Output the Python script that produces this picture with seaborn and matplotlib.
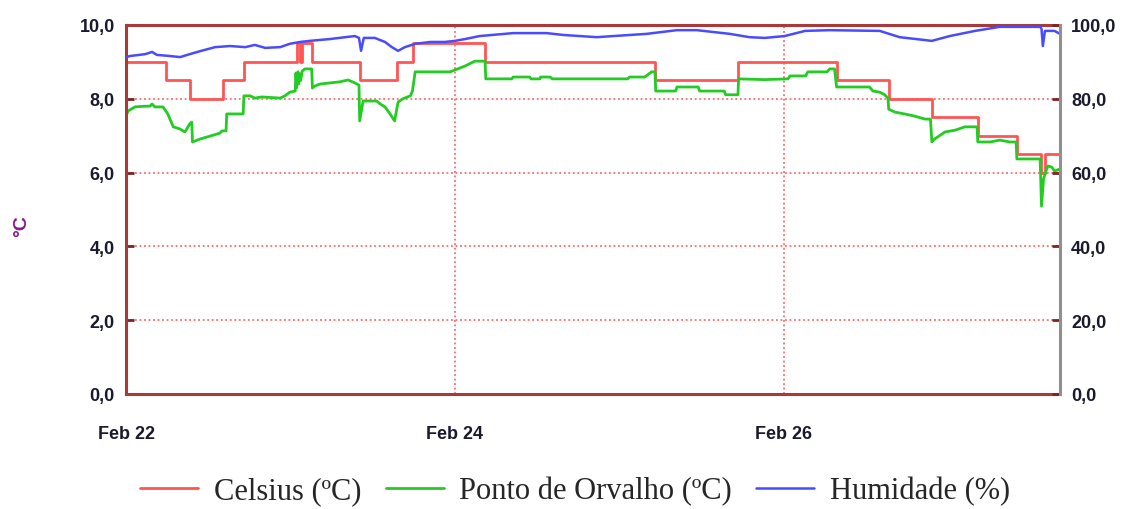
import numpy as np
import pandas as pd
import matplotlib
matplotlib.use("Agg")
import matplotlib.pyplot as plt
import matplotlib.dates as mdates
from matplotlib.ticker import FuncFormatter, FixedLocator
import seaborn as sns

# ---------------- data ----------------
start = pd.Timestamp("2024-02-22 00:00")
end_hours = 136.3

celsius_hours = [0.0, 5.8, 9.3, 14.2, 17.2, 24.9, 25.4, 25.7, 27.1, 34.1, 39.5, 41.9,
                 52.4, 77.2, 89.3, 103.7, 111.3, 117.6, 124.3, 130.0, 133.6, 134.1, 136.3]
celsius_values = [9.0, 8.5, 8.0, 8.5, 9.0, 9.5, 9.0, 9.5, 9.0, 8.5, 9.0, 9.5,
                  9.0, 8.5, 9.0, 8.5, 8.0, 7.5, 7.0, 6.5, 6.0, 6.5, 6.5]

dew_hours = [0.0, 0.3, 1.3, 2.8, 3.5, 3.8, 4.2, 5.4, 6.1, 6.9, 7.9, 8.6, 9.3, 9.6, 9.7,
             10.8, 12.3, 13.7, 14.0, 14.6, 14.7, 17.1, 17.2, 18.1, 18.8, 19.8, 22.5, 23.2,
             23.9, 24.7, 24.8, 24.9, 25.1, 25.2, 25.4, 25.5, 25.7, 26.1, 26.8, 27.1, 27.2,
             27.6, 28.3, 31.2, 32.4, 33.4, 34.0, 34.1, 34.6, 36.6, 37.1, 37.8, 38.5, 39.2,
             39.7, 40.4, 41.5, 41.8, 42.2, 47.3, 48.4, 49.5, 50.9, 52.4, 52.5, 56.3, 56.5,
             58.9, 59.1, 60.4, 60.5, 61.9, 62.2, 73.2, 73.5, 75.7, 76.7, 77.2, 77.3, 80.2,
             80.4, 83.5, 83.7, 87.3, 87.5, 89.3, 89.4, 93.2, 96.6, 96.9, 99.2, 99.5, 102.3,
             102.7, 103.4, 103.7, 108.5, 109.0, 110.0, 110.7, 111.2, 111.3, 112.2, 113.6,
             115.1, 116.6, 117.4, 117.6, 118.0, 119.5, 121.0, 122.4, 124.2, 124.3, 126.1,
             127.5, 129.0, 129.9, 130.0, 133.4, 133.6, 133.9, 134.5, 135.1, 135.5, 136.3]
dew_values = [7.53, 7.67, 7.78, 7.80, 7.80, 7.86, 7.78, 7.78, 7.59, 7.24, 7.18, 7.10, 7.32, 7.37, 6.83,
              6.91, 6.99, 7.07, 7.13, 7.13, 7.59, 7.59, 8.08, 8.08, 8.02, 8.05, 8.02, 8.08,
              8.18, 8.21, 8.70, 8.30, 8.73, 8.40, 8.67, 8.50, 8.75, 8.81, 8.81, 8.81, 8.29,
              8.35, 8.40, 8.46, 8.51, 8.43, 8.37, 7.40, 7.94, 7.94, 7.86, 7.78, 7.60, 7.40,
              7.91, 8.00, 8.08, 8.21, 8.73, 8.73, 8.81, 8.89, 9.02, 9.02, 8.54, 8.54, 8.59,
              8.59, 8.54, 8.54, 8.59, 8.59, 8.54, 8.54, 8.59, 8.59, 8.73, 8.73, 8.21, 8.21,
              8.32, 8.32, 8.21, 8.21, 8.11, 8.11, 8.54, 8.52, 8.54, 8.62, 8.62, 8.73, 8.73,
              8.81, 8.81, 8.32, 8.32, 8.21, 8.18, 8.11, 8.02, 7.72, 7.64, 7.59,
              7.53, 7.45, 7.45, 6.83, 6.91, 7.10, 7.15, 7.24, 7.24, 6.83, 6.83,
              6.88, 6.83, 6.83, 6.37, 6.37, 5.09, 5.83, 6.18, 6.15, 6.04, 6.10]

hum_hours = [0.0, 0.6, 2.8, 3.8, 4.5, 6.4, 7.9, 9.3, 10.8, 13.0, 15.2, 17.4, 18.8, 20.3, 22.5,
             23.9, 25.4, 26.8, 29.8, 32.0, 33.4, 34.0, 34.3, 34.7, 36.3, 37.8, 38.8, 39.7,
             40.7, 42.2, 44.4, 46.5, 48.0, 49.5, 51.6, 56.5, 61.4, 63.8, 68.7, 71.1, 76.0,
             80.4, 83.3, 88.1, 91.0, 93.2, 96.1, 99.1, 102.7, 110.0, 112.9, 117.6, 120.2,
             123.9, 127.5, 133.4, 133.6, 133.8, 134.1, 135.5, 136.3]
hum_values = [91.3, 91.6, 92.1, 92.7, 91.9, 91.6, 91.3, 92.1, 92.9, 94.0, 94.3, 94.0, 94.6, 93.8, 94.0,
              94.9, 95.4, 95.7, 96.2, 96.7, 97.0, 96.5, 93.0, 96.5, 96.5, 95.4, 94.0, 93.0,
              94.0, 94.9, 95.4, 95.4, 95.7, 96.2, 97.0, 97.8, 97.8, 97.3, 96.7, 97.0, 97.6,
              98.6, 98.6, 97.6, 96.7, 96.5, 97.0, 98.4, 98.6, 98.4, 96.7, 95.7, 97.0,
              98.4, 99.5, 99.5, 99.0, 94.3, 98.4, 98.4, 97.6]

tick_dates = ["2024-02-22", "2024-02-24", "2024-02-26"]
series_labels = ["Celsius (ºC)", "Ponto de Orvalho (ºC)", "Humidade (%)"]
y_label = "°C"

# ---------------- style ----------------
sns.set_style("white")
plt.rcParams["font.family"] = ["Liberation Sans", "DejaVu Sans"]

RED = "#ff5555"
GREEN = "#22cc22"
BLUE = "#4a4aff"
SPINE = "#a83a3a"
GRID = "#ff6b6b"
TXT = "#1a1a2e"
LS = 13

fig = plt.figure(figsize=(11.22, 5.10), dpi=100)
ax = fig.add_axes([126 / 1122, 1 - 395 / 510, (1060 - 126) / 1122, (395 - 26) / 510])
ax2 = ax.twinx()

def frame(hours, values):
    return pd.DataFrame({"time": start + pd.to_timedelta(hours, unit="h"), "value": values})

df_c = frame(celsius_hours, celsius_values)
df_d = frame(dew_hours, dew_values)
df_h = frame(hum_hours, hum_values)

sns.lineplot(data=df_c, x="time", y="value", ax=ax, color=RED, lw=2.0,
             drawstyle="steps-post", estimator=None, sort=False, label=series_labels[0], legend=False)
sns.lineplot(data=df_d, x="time", y="value", ax=ax, color=GREEN, lw=2.0,
             estimator=None, sort=False, label=series_labels[1], legend=False)
sns.lineplot(data=df_h, x="time", y="value", ax=ax2, color=BLUE, lw=1.8,
             estimator=None, sort=False, label=series_labels[2], legend=False)

x0 = start
x1 = start + pd.Timedelta(hours=end_hours)
ax.set_xlim(x0, x1)
ax.set_ylim(0, 10)
ax2.set_ylim(0, 100)

comma = FuncFormatter(lambda v, p: f"{v:.1f}".replace(".", ","))
ax.yaxis.set_major_locator(FixedLocator([0, 2, 4, 6, 8, 10]))
ax.yaxis.set_major_formatter(comma)
ax2.yaxis.set_major_locator(FixedLocator([0, 20, 40, 60, 80, 100]))
ax2.yaxis.set_major_formatter(comma)

ax.xaxis.set_major_locator(FixedLocator(mdates.date2num(pd.to_datetime(tick_dates))))
ax.xaxis.set_major_formatter(mdates.DateFormatter("%b %d"))

ax.set_xlabel("")
ax.set_ylabel("")
ax2.set_ylabel("")

ax.grid(True, color=GRID, linestyle=(0, (1, 1.5)), linewidth=1.3)
ax2.grid(False)

for s in ["left", "top", "bottom"]:
    ax.spines[s].set_color(SPINE)
    ax.spines[s].set_linewidth(2.2)
    ax2.spines[s].set_visible(False)
ax.spines["right"].set_visible(False)
ax2.spines["right"].set_color("#909090")
ax2.spines["right"].set_linewidth(2.2)

ax.tick_params(axis="y", direction="in", length=6, width=2, color="#7a2525",
               pad=8, labelcolor=TXT, labelsize=LS)
ax2.tick_params(axis="y", direction="in", length=6, width=2, color="#7a2525",
                pad=8, labelcolor=TXT, labelsize=LS)
ax.tick_params(axis="x", length=0, pad=22, labelcolor=TXT, labelsize=LS)
for t in ax.get_yticklabels() + ax2.get_yticklabels() + ax.get_xticklabels():
    t.set_fontweight("bold")

fig.text(22 / 1122, 1 - 226 / 510, y_label, rotation=90, color="#8a1a8a",
         fontsize=14, fontweight="bold", ha="center", va="center")

h1, l1 = ax.get_legend_handles_labels()
h2, l2 = ax2.get_legend_handles_labels()
fig.legend(h1 + h2, l1 + l2, loc="center", bbox_to_anchor=(575 / 1122, 1 - 492 / 510),
           ncol=3, frameon=False, prop={"family": ["Liberation Serif", "DejaVu Serif"], "size": 22},
           handlelength=1.9, handletextpad=0.5, columnspacing=0.8)

fig.savefig("out.png", dpi=100)
